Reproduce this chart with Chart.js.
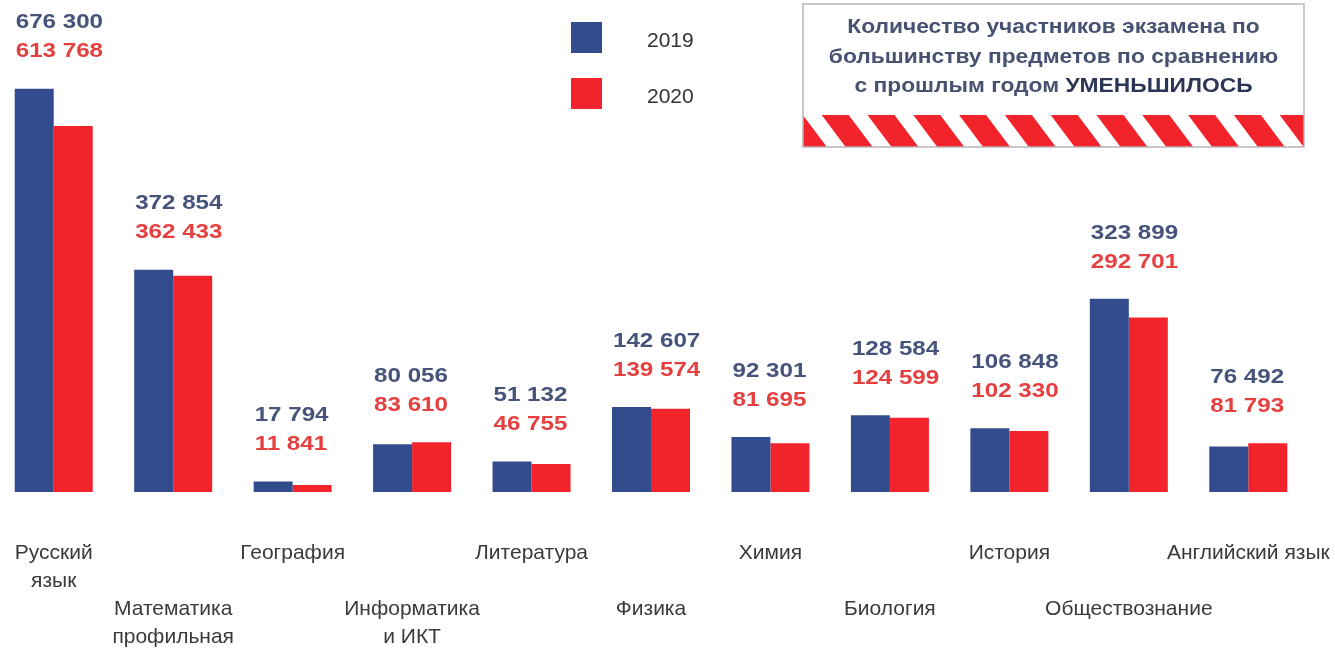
<!DOCTYPE html>
<html lang="ru">
<head>
<meta charset="utf-8">
<title>Количество участников экзамена 2019–2020</title>
<script src="https://cdn.jsdelivr.net/npm/chart.js@4/dist/chart.umd.min.js"></script>
<style>
    html, body { margin: 0; padding: 0; background: #fff; overflow: hidden; }
    body { width: 1335px; height: 652px; position: relative; }
    /* the original picture is cropped a few px into the first bar group */
    #wrap { position: absolute; left: -6px; top: 0; width: 1341px; height: 652px; }
</style>
</head>
<body>
<div id="wrap"><canvas id="examChart"></canvas></div>
<script>
// ============================================================
// DATA
// ============================================================
const subjects = [
    ['Русский', 'язык'],
    ['Математика', 'профильная'],
    ['География'],
    ['Информатика', 'и ИКТ'],
    ['Литература'],
    ['Физика'],
    ['Химия'],
    ['Биология'],
    ['История'],
    ['Обществознание'],
    ['Английский язык']
];
const years = ['2019', '2020'];
const participants2019 = [676300, 372854, 17794, 80056, 51132, 142607, 92301, 128584, 106848, 323899, 76492];
const participants2020 = [613768, 362433, 11841, 83610, 46755, 139574, 81695, 124599, 102330, 292701, 81793];
const noteLines = ['Количество участников экзамена по', 'большинству предметов по сравнению', 'с прошлым годом '];
const noteEmphasis = 'УМЕНЬШИЛОСЬ';

const colors = {
    blue: '#334c8e',
    red: '#f3232b',
    blueText: '#46537a',
    redText: '#e5403f',
    label: '#3a3a3a',
    note: '#475171',
    noteStrong: '#2c3555',
    frame: '#bfb2b9'
};
const FONT = '"Liberation Sans", Arial, sans-serif';
const SHIFT = 6; // canvas starts 6px left of the page

// ============================================================
// HELPERS
// ============================================================
function formatNumber(num) {
    return String(num).replace(/\B(?=(\d{3})+(?!\d))/g, ' ');
}

// text in the picture is slightly wider than Liberation Sans
function drawStretched(ctx, text, x, y, color, sx) {
    ctx.save();
    ctx.translate(x, y);
    ctx.scale(sx, 1);
    ctx.fillStyle = color;
    ctx.fillText(text, 0, 0);
    ctx.restore();
}

// ============================================================
// PLUGINS
// ============================================================
const valueLabels = {
    id: 'valueLabels',
    afterDatasetsDraw(chart) {
        const ctx = chart.ctx;
        const blueBars = chart.getDatasetMeta(0).data;
        const redBars = chart.getDatasetMeta(1).data;
        ctx.save();
        ctx.font = 'bold 21px ' + FONT;
        ctx.textAlign = 'left';
        ctx.textBaseline = 'middle';
        blueBars.forEach((bar, i) => {
            const top = Math.min(bar.y, redBars[i].y);
            const left = bar.x - bar.width / 2 + 1;
            drawStretched(ctx, formatNumber(participants2019[i]), left, top - 66, colors.blueText, 1.15);
            drawStretched(ctx, formatNumber(participants2020[i]), left, top - 37, colors.redText, 1.15);
        });
        ctx.restore();
    }
};

const sideLegend = {
    id: 'sideLegend',
    afterDraw(chart) {
        const ctx = chart.ctx;
        ctx.save();
        ctx.translate(SHIFT, 0);
        ctx.font = '21px ' + FONT;
        ctx.textBaseline = 'middle';
        chart.data.datasets.forEach((ds, i) => {
            const y = 22 + i * 56;
            ctx.fillStyle = ds.backgroundColor;
            ctx.fillRect(571, y, 31, 31);
            ctx.fillStyle = '#333';
            ctx.fillText(ds.label, 647, y + 19);
        });
        ctx.restore();
    }
};

const noteBox = {
    id: 'noteBox',
    afterDraw(chart) {
        const ctx = chart.ctx;
        const x = 803, y = 4, w = 501, h = 143;
        const stripeTop = 115;
        ctx.save();
        ctx.translate(SHIFT, 0);
        ctx.fillStyle = '#fff';
        ctx.fillRect(x, y, w, h);

        // hazard stripes along the bottom
        ctx.save();
        ctx.beginPath();
        ctx.rect(x, stripeTop, w, y + h - stripeTop);
        ctx.clip();
        ctx.fillStyle = colors.red;
        const sh = y + h - stripeTop;
        for (let sx = 821.7 - 45.8 * 2; sx < x + w; sx += 45.8) {
            ctx.beginPath();
            ctx.moveTo(sx, stripeTop);
            ctx.lineTo(sx + 27, stripeTop);
            ctx.lineTo(sx + 27 + 24, stripeTop + sh);
            ctx.lineTo(sx + 24, stripeTop + sh);
            ctx.closePath();
            ctx.fill();
        }
        ctx.restore();

        ctx.strokeStyle = colors.frame;
        ctx.lineWidth = 1.5;
        ctx.strokeRect(x, y, w, h);

        // text
        const cx = x + w / 2;
        const sxText = 1.14;
        ctx.font = 'bold 20px ' + FONT;
        ctx.textBaseline = 'middle';
        ctx.textAlign = 'center';
        drawStretched(ctx, noteLines[0], cx, 27, colors.note, sxText);
        drawStretched(ctx, noteLines[1], cx, 57, colors.note, sxText);

        ctx.textAlign = 'left';
        const w1 = ctx.measureText(noteLines[2]).width * sxText;
        const w2 = ctx.measureText(noteEmphasis).width * sxText;
        const start = cx - (w1 + w2) / 2;
        drawStretched(ctx, noteLines[2], start, 86, colors.note, sxText);
        drawStretched(ctx, noteEmphasis, start + w1, 86, colors.noteStrong, sxText);
        ctx.restore();
    }
};

// ============================================================
// CHART
// ============================================================
new Chart(document.getElementById('examChart'), {
    type: 'bar',
    data: {
        labels: subjects,
        datasets: [
            { label: years[0], data: participants2019, backgroundColor: colors.blue },
            { label: years[1], data: participants2020, backgroundColor: colors.red }
        ]
    },
    options: {
        responsive: true,
        maintainAspectRatio: false,
        animation: false,
        layout: { padding: { left: 0, right: 27, top: 0, bottom: 0 } },
        datasets: { bar: { barPercentage: 1, categoryPercentage: 0.653 } },
        plugins: {
            legend: { display: false },
            tooltip: { enabled: false }
        },
        scales: {
            x: {
                grid: { display: false, drawTicks: false },
                border: { display: false },
                ticks: {
                    autoSkip: false,
                    minRotation: 0,
                    maxRotation: 0,
                    padding: 47,
                    color: colors.label,
                    font: { family: FONT, size: 21, lineHeight: 28 / 21 },
                    // every second subject goes on the lower row
                    callback: (value, index) => index % 2 ? ['', ''].concat(subjects[index]) : subjects[index]
                },
                afterFit: scale => {
                    scale.height = 160;
                    scale.paddingLeft = 0;
                    scale.paddingRight = 0;
                }
            },
            y: { display: false, min: 0, max: 825000 }
        }
    },
    plugins: [valueLabels, sideLegend, noteBox]
});
</script>
</body>
</html>
